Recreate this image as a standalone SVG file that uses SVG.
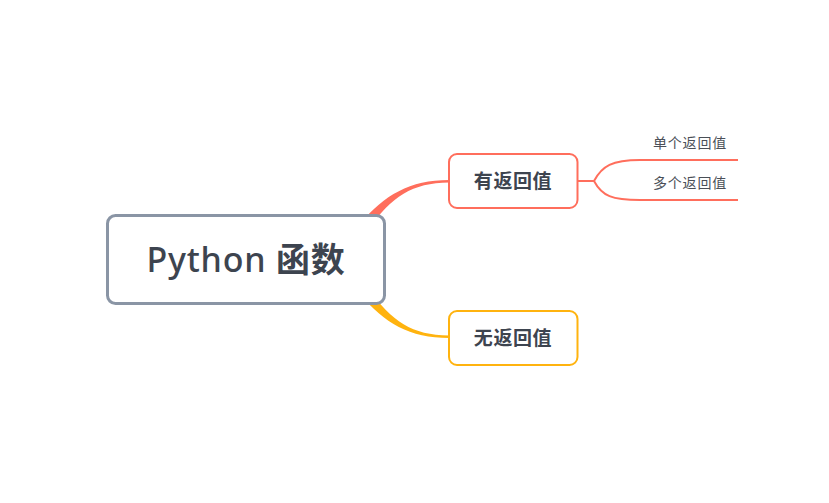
<svg xmlns="http://www.w3.org/2000/svg" width="829" height="503" viewBox="0 0 829 503">
<style>
.t{font-family:"Noto Sans","Noto Sans CJK SC",sans-serif;fill:#3d444f}
.b{font-weight:bold;font-size:19px;letter-spacing:0.6px}
.s{font-size:14px;fill:#4a4f57;letter-spacing:0.8px}
.red{stroke:#ff6e5c;fill:none}
</style>
<rect width="829" height="503" fill="#fff"/>
<g id="connectors">
<path d="M360,224 C384,195 410,180 449,180 L449,182.5 C412,183 392,196 368,230 Z" fill="#ff6e5c"/>
<path d="M360,294 C384,323 410,338 449,338 L449,335.5 C412,335 392,322 368,288 Z" fill="#ffb30f"/>
<path class="red" stroke-width="2" d="M578,181 L594,181 C602,166 612,160 640,160 L738,160"/>
<path class="red" stroke-width="2" d="M594,181 C602,196 612,200 640,200 L738,200"/>
</g>
<g id="root">
<rect x="107.5" y="215.5" width="277" height="88" rx="8" fill="#fff" stroke="#8a95a5" stroke-width="3"/>
<text class="t" x="246" y="272" font-size="34" font-weight="500" letter-spacing="0.8" text-anchor="middle">Python <tspan font-weight="bold">函数</tspan></text>
</g>
<g id="n1">
<rect x="449" y="154" width="128.5" height="54" rx="8" fill="#fff" stroke="#ff6e5c" stroke-width="2"/>
<text class="t b" x="513" y="188" text-anchor="middle">有返回值</text>
</g>
<g id="n2">
<rect x="449" y="311" width="128.5" height="54" rx="8" fill="#fff" stroke="#ffb30f" stroke-width="2"/>
<text class="t b" x="513" y="345" text-anchor="middle">无返回值</text>
</g>
<g id="n3">
<text class="t s" x="690" y="148" text-anchor="middle">单个返回值</text>
</g>
<g id="n4">
<text class="t s" x="690" y="188" text-anchor="middle">多个返回值</text>
</g>
</svg>
